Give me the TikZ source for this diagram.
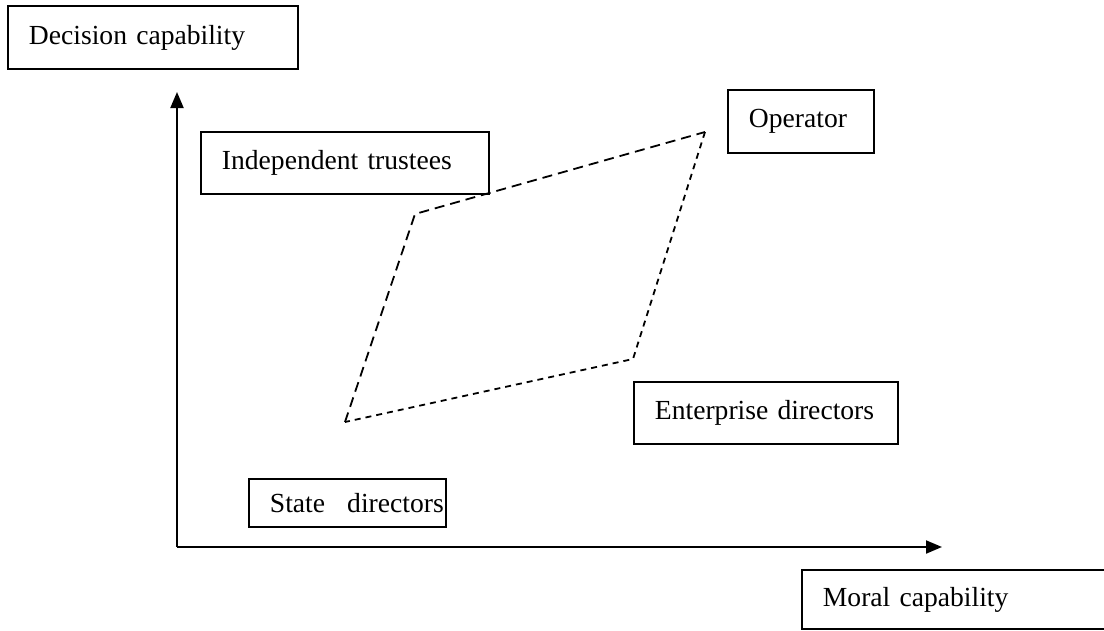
\documentclass[tikz,border=0pt]{standalone}
\usepackage{fontspec}
\setmainfont{Liberation Serif}
\usetikzlibrary{arrows.meta}
\tikzset{
  box/.style={draw, line width=1.9pt, anchor=north west, inner xsep=21pt, inner ysep=0pt,
    align=left, font=\fontsize{27.6}{33}\selectfont},
  axis/.style={line width=2pt, -{Triangle[length=16pt,width=13pt]}},
  longdash/.style={line width=1.8pt, dash pattern=on 10pt off 6pt},
  shortdash/.style={line width=1.8pt, dash pattern=on 6pt off 5pt}
}
\begin{document}
\begin{tikzpicture}[x=1pt,y=-1pt]
\useasboundingbox (0,0) rectangle (1104,630);
\node[box, minimum width=290pt, minimum height=63pt, text width=248pt] (dec) at (7,5) {Decision capability};
\node[box, minimum width=288pt, minimum height=62pt, text width=246pt] (ind) at (200,131) {Independent trustees};
\node[box, minimum width=146pt, minimum height=63pt, text width=104pt] (op) at (727,89) {Operator};
\node[box, minimum width=264pt, minimum height=62pt, text width=222pt] (ent) at (633,381) {Enterprise directors};
\node[box, minimum width=197pt, minimum height=48pt, text width=155pt, text height=22pt, text depth=2pt] (sta) at (248,478) {\mbox{State\hspace{0.8em}directors}};
\node[box, minimum width=310pt, minimum height=59pt, text width=268pt, inner xsep=20pt] (mor) at (801,569) {Moral capability};
\coordinate (o) at (177,547);
\coordinate (ytip) at (177,92);
\coordinate (xtip) at (942,547);
\draw[axis] (o) -- (ytip);
\draw[axis] (o) -- (xtip);
\coordinate (pbl) at (345,422);
\coordinate (ptl) at (415,214);
\coordinate (ptr) at (705,132);
\coordinate (pbr) at (633,359);
\draw[longdash] (pbl) -- (ptl) -- (ptr);
\draw[shortdash] (ptr) -- (pbr) -- (pbl);
\end{tikzpicture}
\end{document}
